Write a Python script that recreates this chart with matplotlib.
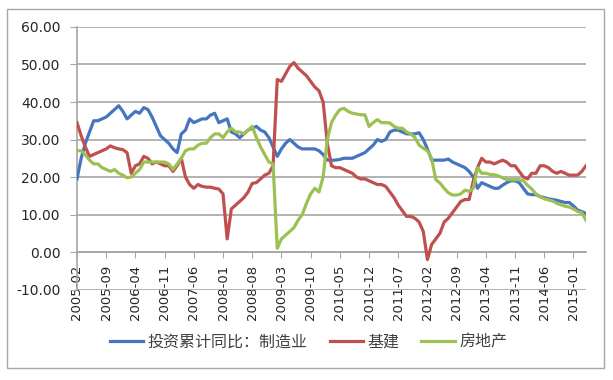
import numpy as np
import pandas as pd
import matplotlib
matplotlib.use('Agg')
import matplotlib.pyplot as plt
from matplotlib.patches import Rectangle
from matplotlib.ticker import FormatStrFormatter

# monthly categories 2005-02 .. 2015-04
months = list(pd.period_range('2005-02', periods=123, freq='M').strftime('%Y-%m'))

manuf = [19.5, 25, 29, 32, 35, 35, 35.5, 36, 37, 38,
         39, 37.5, 35.5, 36.5, 37.5, 37, 38.5, 38, 36, 33.5,
         31, 30, 29, 27.5, 26.5, 31.5, 32.5, 35.5, 34.5, 35,
         35.5, 35.5, 36.5, 37, 34.5, 35, 35.5, 32, 31.5, 30.5,
         31.5, 32.5, 33, 33.5, 32.5, 32, 30.5, 28, 25.5, 27.5,
         29, 30, 29, 28, 27.5, 27.5, 27.5, 27.5, 27, 26,
         24.5, 24.5, 24.5, 24.7, 25, 25, 25, 25.5, 26, 26.5,
         27.5, 28.5, 30, 29.5, 30, 32, 32.5, 32.5, 32, 31.5,
         31.5, 31.5, 31.8, 30, 27.5, 24.5, 24.5, 24.5, 24.5, 24.8,
         24, 23.5, 23, 22.5, 21.5, 20, 17, 18.5, 18, 17.5,
         17, 17, 17.8, 18.5, 19, 19, 18.5, 17, 15.5, 15.3,
         15.3, 14.8, 14.5, 14.2, 14, 13.8, 13.5, 13.2, 13.2, 12.3,
         11.2, 10.8, 10.3]

infra = [34.5, 31, 28, 25.5, 26, 26.5, 27, 27.5, 28.3, 27.8,
         27.5, 27.3, 26.5, 21, 23, 23.5, 25.5, 25, 23.5, 24,
         23.5, 23, 23, 21.5, 23, 25, 20, 18, 17, 18,
         17.5, 17.3, 17.3, 17, 16.8, 15.5, 3.5, 11.5, 12.5, 13.5,
         14.5, 16, 18.3, 18.5, 19.5, 20.5, 21, 23, 46, 45.5,
         47.5, 49.5, 50.5, 49, 48, 47, 45.5, 44, 43, 40,
         29, 23, 22.5, 22.5, 22, 21.5, 21, 20, 19.5, 19.5,
         19, 18.5, 18, 18, 17.5, 16, 14.5, 12.5, 11, 9.5,
         9.5, 9, 8, 5.5, -2, 2, 3.5, 5, 8, 9,
         10.5, 12, 13.5, 14, 14, 19, 22.5, 25, 24, 24,
         23.5, 24, 24.5, 24, 23, 23, 21.5, 20, 19.5, 21,
         21, 23, 23, 22.5, 21.5, 21, 21.5, 21, 20.5, 20.5,
         20.5, 21.5, 23]

realty = [27, 27, 26, 24.5, 23.5, 23.5, 22.5, 22, 21.5, 22,
          21, 20.5, 19.8, 20, 21, 22, 24, 24, 24, 24,
          24, 24, 23.5, 22, 23.5, 25, 27, 27.5, 27.5, 28.5,
          29, 29, 30.5, 31.5, 31.5, 30.5, 32, 33, 32, 32,
          31.5, 32.5, 33.5, 30.5, 28, 26, 24, 23.5, 1, 3.5,
          4.5, 5.5, 6.5, 8.5, 10, 13, 15.5, 17, 16, 20,
          30, 34.5, 36.5, 38, 38.3, 37.5, 37, 36.8, 36.6, 36.6,
          33.5, 34.5, 35.3, 34.5, 34.5, 34.4, 33.5, 33, 33, 32,
          31.5, 30.5, 28.5, 27.7, 27, 25, 19.3, 18.4, 17, 15.8,
          15.2, 15.2, 15.5, 16.5, 16.2, 17, 22.5, 21, 21, 20.7,
          20.6, 20.3, 19.8, 19.3, 19.3, 19.3, 19.3, 19, 17.8, 16.8,
          15.5, 14.8, 14.2, 13.9, 13.6, 13, 12.6, 12.2, 12, 11.5,
          10.8, 10.5, 8.5]

labels = ['投资累计同比：制造业', '基建', '房地产']
colors = ['#4675C0', '#C0504D', '#9BC152']

plt.rcParams['font.family'] = ['Noto Sans CJK SC', 'DejaVu Sans']

fig = plt.figure(figsize=(6.13, 3.80), dpi=100)
fig.patches.append(Rectangle((0.0114, 0.0316), 0.974, 0.945, transform=fig.transFigure,
                             fill=False, edgecolor='#A6A6A6', lw=1.0))

ax = fig.add_axes([0.1256, 0.238, 0.8303, 0.691])
x = np.arange(len(months))
for ys, lab, c in zip([manuf, infra, realty], labels, colors):
    ax.plot(x, ys, color=c, lw=2.3, label=lab, zorder=3)

ax.set_xlim(0, len(months) - 1)
ax.set_ylim(-10, 60)
ax.set_yticks(np.arange(-10, 61, 10))
ax.yaxis.set_major_formatter(FormatStrFormatter('%.2f'))
ax.grid(axis='y', color='#A6A6A6', lw=1.2)
ax.set_axisbelow(True)

ax.spines['bottom'].set_position(('data', 0))
ax.spines['top'].set_visible(False)
ax.spines['right'].set_visible(False)
ax.spines['left'].set_color('#A6A6A6')
ax.spines['bottom'].set_color('#A6A6A6')
ax.spines['left'].set_linewidth(1.2)
ax.spines['bottom'].set_linewidth(1.2)

ax.set_xticks(x[::7])
ax.set_xticklabels(months[::7], rotation=90, fontfamily='DejaVu Sans')
for t in ax.get_yticklabels():
    t.set_fontfamily('DejaVu Sans')
ax.tick_params(axis='x', direction='out', length=4, color='#A6A6A6', labelsize=9.5,
               pad=5, labelcolor='#262626')
ax.tick_params(axis='y', direction='out', length=5, color='#A6A6A6', labelsize=10,
               pad=7, labelcolor='#262626')

fig.legend(loc='center', bbox_to_anchor=(0.503, 0.1), ncol=3, frameon=False,
           fontsize=11.5, handlelength=2.1, handletextpad=0.25, columnspacing=1.4,
           labelcolor='#404040')

fig.savefig('out.png', dpi=100)
